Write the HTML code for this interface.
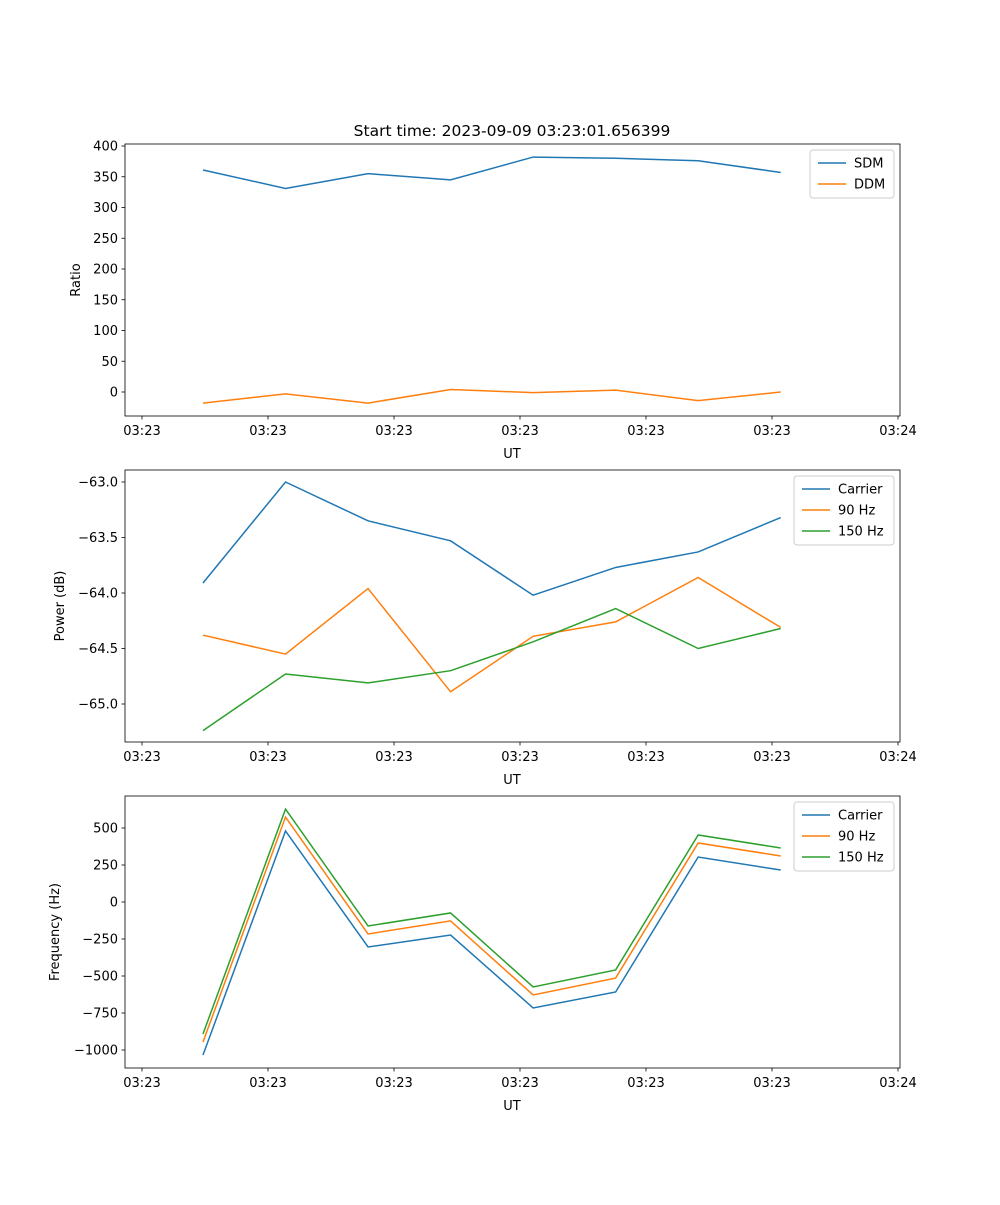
<!DOCTYPE html>
<html><head><meta charset="utf-8">
<style>
body{margin:0;background:#fff;font-family:"Liberation Sans","DejaVu Sans",sans-serif;}
svg text{font-family:"DejaVu Sans","Liberation Sans",sans-serif;font-size:13px;fill:#000;}
</style></head>
<body>
<svg id="fig" width="1000" height="1200" xmlns="http://www.w3.org/2000/svg">
<rect width="1000" height="1200" fill="#fff"/>
<text x="512" y="136" text-anchor="middle" style="font-size:15.5px">Start time: 2023-09-09 03:23:01.656399</text>
</svg>
<script>
const times = [4.84, 11.39, 17.94, 24.49, 31.04, 37.59, 44.14, 50.69];
const xTickVals = [0, 10, 20, 30, 40, 50, 60];
const xTickLabels = ["03:23","03:23","03:23","03:23","03:23","03:23","03:24"];
const sdm = [361, 331, 355, 345, 382, 380, 376, 357];
const ddm = [-18, -3, -18, 4, -1, 3, -14, 0];
const powCarrier = [-63.91, -63.0, -63.35, -63.53, -64.02, -63.77, -63.63, -63.32];
const pow90 = [-64.38, -64.55, -63.96, -64.89, -64.39, -64.26, -63.86, -64.31];
const pow150 = [-65.24, -64.73, -64.81, -64.70, -64.44, -64.14, -64.50, -64.32];
const freqCarrier = [-1034, 480, -304, -223, -716, -608, 304, 216];
const freq90 = [-946, 574, -216, -128, -628, -514, 399, 311];
const freq150 = [-892, 628, -162, -74, -574, -459, 453, 365];
const yTicks1 = [0, 50, 100, 150, 200, 250, 300, 350, 400];
const yTicks2 = [-65.0, -64.5, -64.0, -63.5, -63.0];
const yTicks2Labels = ["\u221265.0","\u221264.5","\u221264.0","\u221263.5","\u221263.0"];
const yTicks3 = [-1000, -750, -500, -250, 0, 250, 500];
const yTicks3Labels = ["\u22121000","\u2212750","\u2212500","\u2212250","0","250","500"];

const NS="http://www.w3.org/2000/svg";
const svg=document.getElementById('fig');
function mk(tag,attrs,parent){const e=document.createElementNS(NS,tag);for(const k in attrs)e.setAttribute(k,attrs[k]);(parent||svg).appendChild(e);return e;}
const L=125,R=900;
const xs=t=>142+t*12.6;
const C=['#1f77b4','#ff7f0e','#2ca02c'];

function panel(id,top,bot,yv0,yp0,yv1,yp1,ticks,tickLabels,ylabel,ylx,series,names,legW){
  const ys=v=>yp0+(v-yv0)*(yp1-yp0)/(yv1-yv0);
  const g=mk('g',{});
  
  
  series.forEach((s,si)=>{
    const p=mk('polyline',{points:s.map((v,i)=>xs(times[i])+','+ys(v)).join(' '),fill:'none',stroke:C[si],'stroke-width':1.5},g);
    
    
  });
  const fr=mk('rect',{x:L,y:top,width:R-L,height:bot-top,fill:'none',stroke:'#000','stroke-width':0.8},g);
  
  
  xTickVals.forEach((t,i)=>{
    const x=xs(t);
    mk('line',{x1:x,x2:x,y1:bot,y2:bot+3.5,stroke:'#000','stroke-width':0.8},g);
    const tx=mk('text',{x:x,y:bot+19,'text-anchor':'middle'},g);tx.textContent=xTickLabels[i];
    
    
  });
  const xl=mk('text',{x:512,y:bot+42,'text-anchor':'middle'},g);xl.textContent='UT';
  
  
  ticks.forEach((v,i)=>{
    const y=ys(v);
    mk('line',{x1:L-3.5,x2:L,y1:y,y2:y,stroke:'#000','stroke-width':0.8},g);
    const tx=mk('text',{x:L-7,y:y+4.5,'text-anchor':'end'},g);tx.textContent=tickLabels[i];
    
    
  });
  const cy=(top+bot)/2;
  const yl=mk('text',{x:ylx,y:cy,'text-anchor':'middle',transform:`rotate(-90 ${ylx} ${cy})`},g);yl.textContent=ylabel;
  
  
  const lx=R-6-legW, ly=top+6, lh=names.length*21+6;
  const lg=mk('g',{},g);
  
  
  mk('rect',{x:lx,y:ly,width:legW,height:lh,rx:3,fill:'#fff','fill-opacity':0.8,stroke:'#ccc'},lg);
  names.forEach((n,i)=>{
    const y=ly+13+i*21;
    mk('line',{x1:lx+8,x2:lx+36,y1:y,y2:y,stroke:C[i],'stroke-width':1.5},lg);
    const t=mk('text',{x:lx+44,y:y+4.5},lg);t.textContent=n;
    
    
  });
}
panel('ratio',144,416,0,392,400,146,yTicks1,yTicks1.map(String),'Ratio',80,[sdm,ddm],['SDM','DDM'],84);
panel('power',470,742,-63.0,482,-65.0,704,yTicks2,yTicks2Labels,'Power (dB)',64,[powCarrier,pow90,pow150],['Carrier','90 Hz','150 Hz'],100);
panel('freq',796,1068,0,902,-1000,1050,yTicks3,yTicks3Labels,'Frequency (Hz)',59,[freqCarrier,freq90,freq150],['Carrier','90 Hz','150 Hz'],100);
</script>
</body></html>
